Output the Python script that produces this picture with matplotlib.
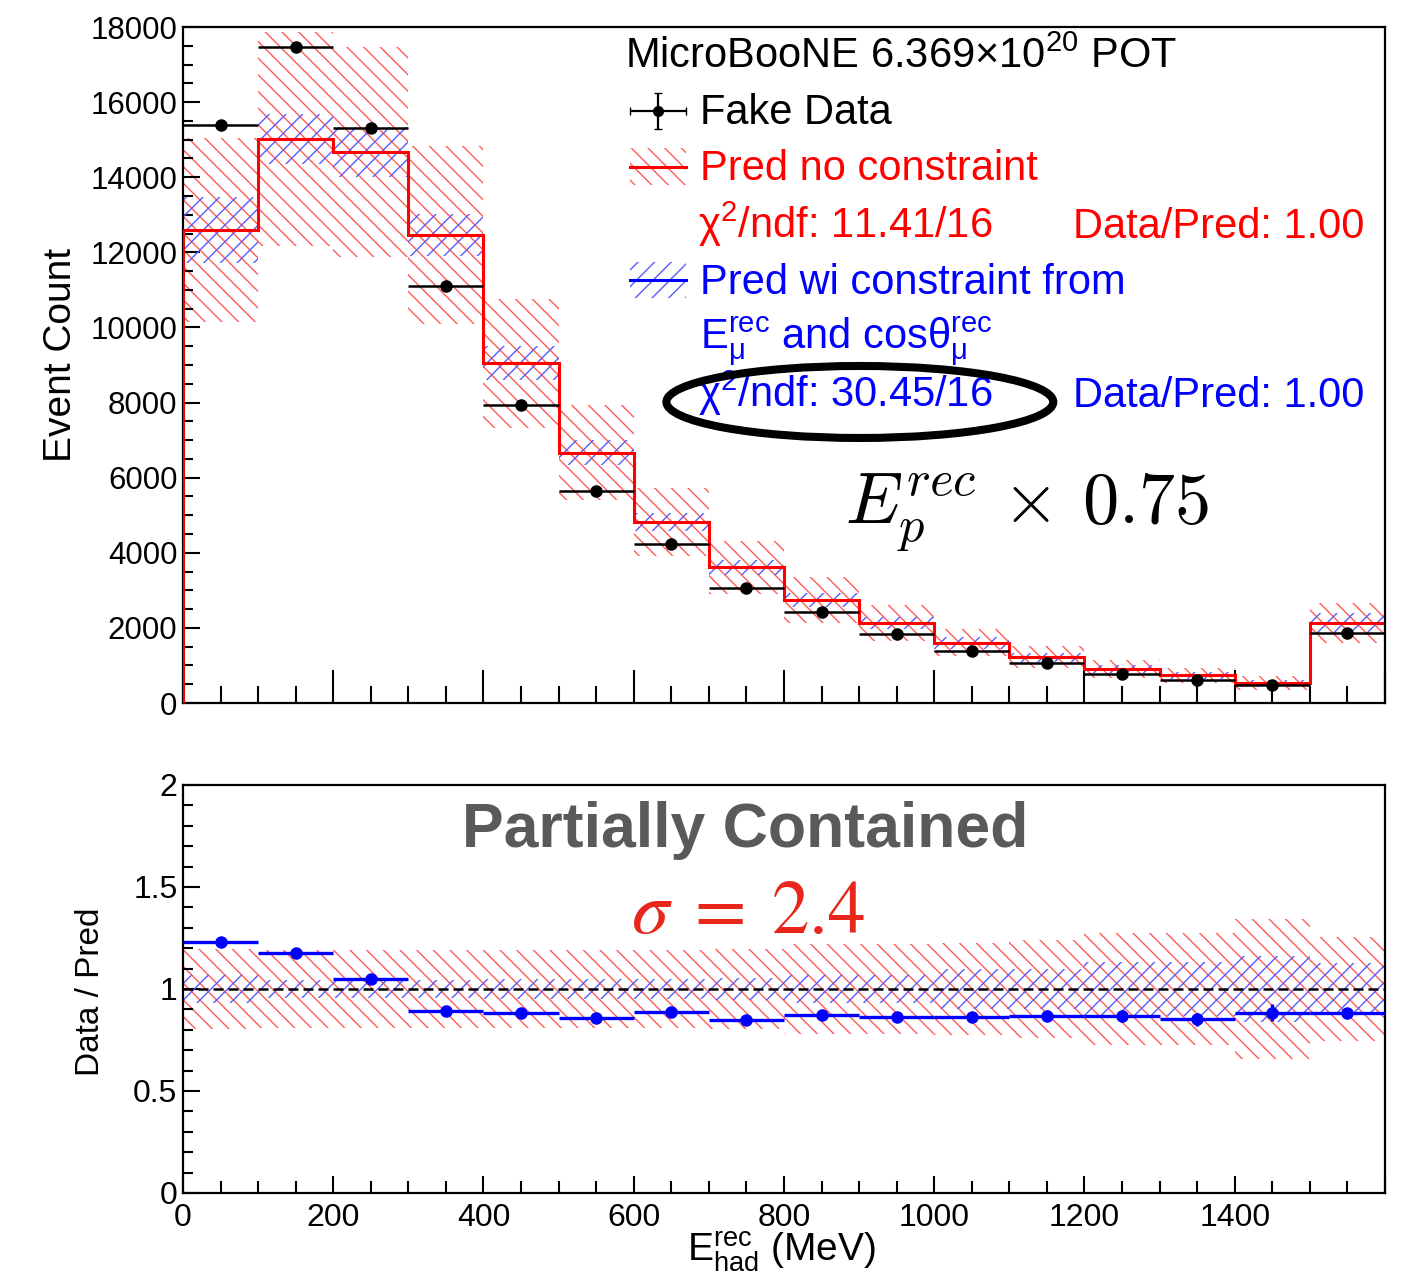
import matplotlib
matplotlib.use('Agg')
import matplotlib.pyplot as plt
from matplotlib.patches import Ellipse, Rectangle
from matplotlib.ticker import MultipleLocator, FuncFormatter
import numpy as np

plt.rcParams['font.family'] = ['Liberation Sans', 'DejaVu Sans']
plt.rcParams['mathtext.fontset'] = 'custom'
plt.rcParams['mathtext.rm'] = 'Liberation Sans'
plt.rcParams['mathtext.it'] = 'Liberation Sans:italic'
plt.rcParams['mathtext.bf'] = 'Liberation Sans:bold'
plt.rcParams['hatch.linewidth'] = 1.0

# binning in E_had^rec (MeV)
bin_edges = [0, 100, 200, 300, 400, 500, 600, 700, 800, 900, 1000, 1100, 1200, 1300, 1400, 1500, 1600]
# fake data counts and stat errors
fake_data = [15380, 17480, 15300, 11100, 7930, 5650, 4230, 3060, 2420, 1840, 1385, 1060, 775, 625, 480, 1860]
data_err = [124, 132, 124, 105, 89, 75, 65, 55, 49, 43, 37, 33, 28, 25, 22, 43]
# prediction (same central value with / without constraint)
pred = [12600, 15020, 14670, 12460, 9050, 6660, 4820, 3620, 2740, 2130, 1600, 1220, 905, 735, 535, 2130]
# relative uncertainties
rel_err_nocons = [0.195, 0.19, 0.19, 0.19, 0.19, 0.19, 0.19, 0.195, 0.22, 0.22, 0.225, 0.24, 0.275, 0.275, 0.345, 0.255]
rel_err_cons = [0.07, 0.045, 0.045, 0.045, 0.05, 0.05, 0.05, 0.055, 0.07, 0.07, 0.10, 0.10, 0.13, 0.13, 0.16, 0.127]
# data / pred in the lower panel
ratio = [1.232, 1.175, 1.049, 0.892, 0.881, 0.856, 0.889, 0.848, 0.873, 0.864, 0.864, 0.869, 0.868, 0.851, 0.884, 0.881]
ratio_err = [0.010, 0.010, 0.010, 0.010, 0.011, 0.012, 0.014, 0.016, 0.018, 0.020, 0.023, 0.026, 0.030, 0.033, 0.040, 0.022]

RED_H = '#ff5a5a'
BLUE_H = '#5a5aff'

edges = np.array(bin_edges, dtype=float)
left = edges[:-1]
width = np.diff(edges)
centers = left + width / 2
pred = np.array(pred, dtype=float)
r_nc = np.array(rel_err_nocons)
r_c = np.array(rel_err_cons)

fig = plt.figure(figsize=(14.25, 12.81), dpi=100)
ax1 = fig.add_axes([0.1284, 0.4512, 0.8435, 0.5277])
ax2 = fig.add_axes([0.1284, 0.0687, 0.8435, 0.3185])

# ---------- upper panel ----------
ax1.bar(left, 2 * pred * r_nc, bottom=pred * (1 - r_nc), width=width, align='edge',
        fill=False, hatch='\\\\', edgecolor=RED_H, linewidth=0, zorder=1)
ax1.bar(left, 2 * pred * r_c, bottom=pred * (1 - r_c), width=width, align='edge',
        fill=False, hatch='//', edgecolor=BLUE_H, linewidth=0, zorder=2)
ax1.stairs(pred, edges, baseline=0, color='red', linewidth=2.2, zorder=3)
ax1.errorbar(centers, fake_data, xerr=width / 2, yerr=data_err, fmt='o', color='black',
             ms=8, elinewidth=1.8, capsize=0, zorder=4)

ax1.set_xlim(0, 1600)
ax1.set_ylim(0, 18000)
ax1.xaxis.set_major_locator(MultipleLocator(200))
ax1.xaxis.set_minor_locator(MultipleLocator(50))
ax1.yaxis.set_major_locator(MultipleLocator(2000))
ax1.yaxis.set_minor_locator(MultipleLocator(500))
ax1.tick_params(axis='x', which='major', direction='in', length=24, width=1.5, labelbottom=False)
ax1.tick_params(axis='x', which='minor', direction='in', length=12, width=1.5)
ax1.tick_params(axis='y', which='major', direction='in', length=12, width=1.5, labelsize=22.5, pad=4)
ax1.tick_params(axis='y', which='minor', direction='in', length=7, width=1.5)
ax1.set_ylabel('Event Count', fontsize=28, va='center', ha='center')
ax1.yaxis.set_label_coords(-0.1015, 0.515)
for s in ax1.spines.values():
    s.set_linewidth(1.6)
ax1.spines['right'].set_zorder(5)

# legend (drawn by hand, ROOT style)
fs = 30
ax1.text(588, 16910, r'MicroBooNE 6.369×10$^{20}$ POT', fontsize=fs, va='baseline')
ax1.errorbar([632], [15765], xerr=[37.5], yerr=[480], fmt='o', color='black', ms=7,
             elinewidth=1.6, capsize=3)
ax1.text(688, 15420, 'Fake Data', fontsize=fs, va='baseline')
ax1.add_patch(Rectangle((595, 13795), 75, 985, fill=False, hatch='\\\\', edgecolor=RED_H, linewidth=0))
ax1.plot([595, 670], [14274, 14274], color='red', lw=2.2)
ax1.text(688, 13930, 'Pred no constraint', fontsize=fs, color='red', va='baseline')
ax1.text(685, 12383, r'χ$^{2}$/ndf: 11.41/16', fontsize=fs, color='red', va='baseline')
ax1.text(1185, 12383, 'Data/Pred: 1.00', fontsize=fs, color='red', va='baseline')
ax1.add_patch(Rectangle((595, 10785), 75, 959, fill=False, hatch='//', edgecolor=BLUE_H, linewidth=0))
ax1.plot([595, 670], [11265, 11265], color='blue', lw=2.2)
ax1.text(688, 10892, 'Pred wi constraint from', fontsize=fs, color='blue', va='baseline')
ax1.text(688, 9400, r'E$_{\mathrm{μ}}^{\mathrm{rec}}$ and cosθ$_{\mathrm{μ}}^{\mathrm{rec}}$',
         fontsize=fs, color='blue', va='baseline')
ax1.text(685, 7882, r'χ$^{2}$/ndf: 30.45/16', fontsize=fs, color='blue', va='baseline')
ax1.text(1185, 7882, 'Data/Pred: 1.00', fontsize=fs, color='blue', va='baseline')

ax1.add_patch(Ellipse((901, 8016), width=515, height=1917, fill=False, edgecolor='black',
                      linewidth=5.8, zorder=6))
ax1.text(881, 4790, r'$E_p^{rec}\,\times\,0.75$', math_fontfamily='cm', fontsize=52,
         ha='left', va='baseline')

# ---------- lower panel ----------
ax2.bar(left, 2 * r_nc, bottom=1 - r_nc, width=width, align='edge', fill=False,
        hatch='\\\\', edgecolor=RED_H, linewidth=0, zorder=1)
ax2.bar(left, 2 * r_c, bottom=1 - r_c, width=width, align='edge', fill=False,
        hatch='//', edgecolor=BLUE_H, linewidth=0, zorder=2)
ax2.axhline(1.0, color='black', lw=1.8, ls=(0, (4, 2)), zorder=3)
ax2.errorbar(centers, ratio, xerr=width / 2, yerr=ratio_err, fmt='o', color='blue',
             ms=8, elinewidth=2.4, capsize=0, zorder=4)

ax2.set_xlim(0, 1600)
ax2.set_ylim(0, 2)
ax2.xaxis.set_major_locator(MultipleLocator(200))
ax2.xaxis.set_minor_locator(MultipleLocator(50))
ax2.xaxis.set_major_formatter(FuncFormatter(lambda v, p: '' if v >= 1600 else '%d' % v))
ax2.yaxis.set_major_locator(MultipleLocator(0.5))
ax2.yaxis.set_minor_locator(MultipleLocator(0.1))
ax2.yaxis.set_major_formatter(FuncFormatter(lambda v, p: ('%g' % v)))
ax2.tick_params(axis='x', which='major', direction='in', length=12, width=1.5, labelsize=23, pad=7)
ax2.tick_params(axis='x', which='minor', direction='in', length=9, width=1.5)
ax2.tick_params(axis='y', which='major', direction='in', length=12, width=1.5, labelsize=23, pad=4)
ax2.tick_params(axis='y', which='minor', direction='in', length=7, width=1.5)
ax2.set_ylabel('Data / Pred', fontsize=24, va='center', ha='center')
ax2.yaxis.set_label_coords(-0.077, 0.493)
ax2.set_xlabel(r'E$_{\mathrm{had}}^{\mathrm{rec}}$ (MeV)', fontsize=28, va='center', ha='center')
ax2.xaxis.set_label_coords(0.498, -0.145)
for s in ax2.spines.values():
    s.set_linewidth(1.6)

ax2.text(748, 1.775, 'Partially Contained', fontsize=45, fontweight='bold', color='#5a5a5a',
         ha='center', va='center')
ax2.text(752, 1.37, r'$\sigma\;=\;2.4$', math_fontfamily='stix', fontsize=54, color='#e8261c',
         ha='center', va='center')

fig.savefig('out.png', dpi=100)
